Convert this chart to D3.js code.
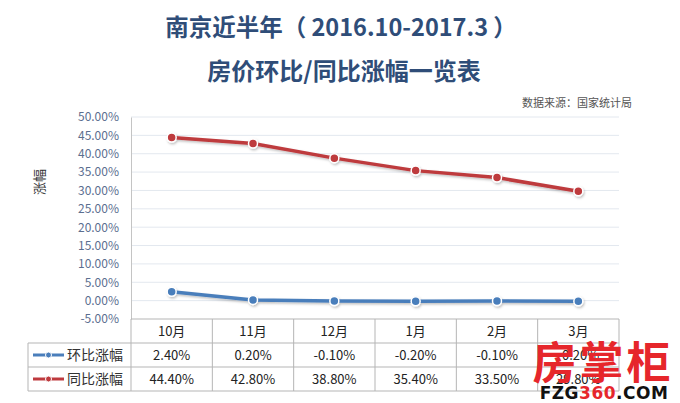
<!DOCTYPE html>
<html><head><meta charset="utf-8">
<script src="https://cdn.jsdelivr.net/npm/d3@7"></script>
<style>body{margin:0;background:#fff}svg{display:block}</style>
</head><body>
<script>
const months = ["10月","11月","12月","1月","2月","3月"];
const seriesNames = ["环比涨幅","同比涨幅"];
const huanbi = [2.40, 0.20, -0.10, -0.20, -0.10, -0.20];
const tongbi = [44.40, 42.80, 38.80, 35.40, 33.50, 29.80];
const yTicks = [-5,0,5,10,15,20,25,30,35,40,45,50];
const colors = ["#4a7ebb","#be3a3e"];

const W=680,H=403;
const svg=d3.select("body").append("svg").attr("width",W).attr("height",H);
const font="'Noto Sans CJK SC','Noto Sans',sans-serif";

const x=d3.scaleBand().domain(months).range([131,619]);
const y=d3.scaleLinear().domain([-5,50]).range([319,117]);

// titles
svg.append("text").attr("x",341).attr("y",36).attr("text-anchor","middle")
 .attr("font-family",font).attr("font-weight","bold").attr("font-size",23.5).attr("fill","#2f4d78")
 .text("南京近半年（ 2016.10-2017.3 ）");
svg.append("text").attr("x",344).attr("y",80).attr("text-anchor","middle")
 .attr("font-family",font).attr("font-weight","bold").attr("font-size",24).attr("fill","#2f4d78")
 .text("房价环比/同比涨幅一览表");
svg.append("text").attr("x",632).attr("y",107).attr("text-anchor","end")
 .attr("font-family",font).attr("font-size",11).attr("fill","#555").text("数据来源：国家统计局");

// gridlines
svg.append("g").selectAll("line").data(yTicks.filter(d=>d>-5)).join("line")
 .attr("x1",131).attr("x2",619).attr("y1",d=>y(d)).attr("y2",d=>y(d))
 .attr("stroke","#e3e8ef").attr("stroke-width",1);

// y axis
const yAxis=d3.axisLeft(y).tickValues(yTicks).tickFormat(d=>d.toFixed(2)+"%").tickSize(0).tickPadding(12);
const ga=svg.append("g").attr("transform","translate(131,0)").call(yAxis);
ga.select(".domain").attr("stroke","#c4c4c4");
ga.selectAll("text").attr("font-family",font).attr("font-size",12).attr("fill","#5b6e8f");

svg.append("text").attr("transform","translate(44,182) rotate(-90)").attr("text-anchor","middle")
 .attr("font-family",font).attr("font-size",13).attr("fill","#333").text("涨幅");

// lines
const data=[huanbi,tongbi];
const line=d3.line().x((d,i)=>x(months[i])+x.bandwidth()/2).y(d=>y(d));
const defs=svg.append("defs");
defs.append("filter").attr("id","sh").attr("x","-10%").attr("y","-50%").attr("width","120%").attr("height","200%")
 .append("feDropShadow").attr("dx",1).attr("dy",1.5).attr("stdDeviation",1).attr("flood-color","#000").attr("flood-opacity",0.25);
data.forEach((s,k)=>{
  const g=svg.append("g").attr("filter","url(#sh)");
  g.append("path").datum(s).attr("d",line).attr("fill","none").attr("stroke",colors[k]).attr("stroke-width",3.5);
  g.selectAll("circle").data(s).join("circle")
   .attr("cx",(d,i)=>x(months[i])+x.bandwidth()/2).attr("cy",d=>y(d)).attr("r",4.5)
   .attr("fill",colors[k]).attr("stroke","#fff").attr("stroke-width",1.5);
});

// table
const rows=[319,343,367,391];
const tg=svg.append("g").attr("stroke","#b5b5b5").attr("stroke-width",1).attr("fill","none");
tg.append("line").attr("x1",131).attr("x2",619).attr("y1",rows[0]).attr("y2",rows[0]);
[1,2,3].forEach(r=>tg.append("line").attr("x1",28).attr("x2",619).attr("y1",rows[r]).attr("y2",rows[r]));
tg.append("line").attr("x1",28).attr("x2",28).attr("y1",rows[1]).attr("y2",rows[3]);
months.forEach(m=>tg.append("line").attr("x1",x(m)).attr("x2",x(m)).attr("y1",rows[0]).attr("y2",rows[3]));
tg.append("line").attr("x1",619).attr("x2",619).attr("y1",rows[0]).attr("y2",rows[3]);

const tt=svg.append("g").attr("font-family",font).attr("font-size",13).attr("fill","#222").attr("text-anchor","middle");
months.forEach(m=>tt.append("text").attr("x",x(m)+x.bandwidth()/2).attr("y",(rows[0]+rows[1])/2+5).text(m));
data.forEach((s,k)=>{
  s.forEach((v,i)=>tt.append("text").attr("x",x(months[i])+x.bandwidth()/2).attr("y",(rows[k+1]+rows[k+2])/2+5).text(v.toFixed(2)+"%"));
  const cy=(rows[k+1]+rows[k+2])/2;
  svg.append("line").attr("x1",33).attr("x2",64).attr("y1",cy).attr("y2",cy).attr("stroke",colors[k]).attr("stroke-width",3);
  svg.append("circle").attr("cx",48.5).attr("cy",cy).attr("r",3).attr("fill",colors[k]).attr("stroke","#fff").attr("stroke-width",1);
  svg.append("text").attr("x",67).attr("y",cy+5).attr("font-family",font).attr("font-size",14).attr("fill","#333").text(seriesNames[k]);
});

// watermark
svg.append("text").attr("x",603).attr("y",379).attr("text-anchor","middle").attr("font-family",font)
 .attr("font-weight","bold").attr("font-size",44).attr("fill","#e6262b").attr("letter-spacing",3).text("房掌柜");
const wm=svg.append("text").attr("x",604).attr("y",399).attr("text-anchor","middle").attr("font-family","'DejaVu Sans',sans-serif")
 .attr("font-weight","bold").attr("font-size",17).attr("letter-spacing",0.5);
wm.append("tspan").attr("fill","#111").text("FZG");
wm.append("tspan").attr("fill","#e6262b").text("360");
wm.append("tspan").attr("fill","#111").text(".COM");
</script>
</body></html>
